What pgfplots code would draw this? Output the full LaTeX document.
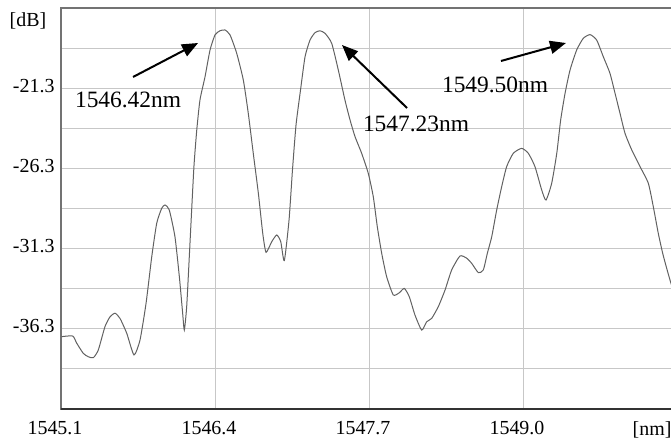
\documentclass[border=0pt]{standalone}
\usepackage{pgfplots}
\pgfplotsset{compat=1.18}
\usepackage{fontspec}
\setmainfont{Liberation Serif}
\usetikzlibrary{arrows.meta}

\begin{document}
\begin{tikzpicture}
\begin{axis}[
  name=ax,
  scale only axis, width=616bp, height=401bp,
  xmin=1545.1, xmax=1550.3, ymin=-41.3, ymax=-16.3,
  xtick={1545.1,1546.4,1547.7,1549.0},
  xticklabels={1545.1,1546.4,1547.7,1549.0},
  extra x ticks={1550.14}, extra x tick labels={[nm]},
  extra x tick style={grid=none},
  ytick={-41.3,-38.8,-36.3,-33.8,-31.3,-28.8,-26.3,-23.8,-21.3,-18.8,-16.3},
  yticklabels={,,-36.3,,-31.3,,-26.3,,-21.3,,},
  grid=major,
  major grid style={draw=black!22, line width=1bp},
  major tick length=0pt,
  axis line style={draw=black!55, line width=1.2bp},
  tick label style={font=\fontsize{20}{24}\selectfont},
  xticklabel style={xshift=-6bp, yshift=-9bp},
  yticklabel style={xshift=-3bp, yshift=2.5bp},
  clip=false,
]
\addplot[color=black!62, line width=1bp, smooth, tension=0.35] coordinates {
(1545.106,-36.79) (1545.199,-36.75) (1545.233,-37.20) (1545.288,-37.83)
(1545.330,-38.04) (1545.373,-38.10) (1545.415,-37.62) (1545.471,-36.17)
(1545.514,-35.55) (1545.556,-35.33) (1545.598,-35.65) (1545.655,-36.58)
(1545.716,-37.93) (1545.767,-37.00) (1545.818,-34.71) (1545.866,-31.81)
(1545.908,-29.72) (1545.950,-28.79) (1545.978,-28.58) (1546.014,-28.89)
(1546.062,-30.56) (1546.099,-33.05) (1546.127,-35.33) (1546.141,-36.38)
(1546.161,-34.92) (1546.183,-31.81) (1546.203,-28.89) (1546.223,-26.09)
(1546.246,-23.91) (1546.273,-22.04) (1546.316,-20.58) (1546.358,-18.92)
(1546.400,-17.98) (1546.442,-17.72) (1546.484,-17.67) (1546.527,-17.98)
(1546.583,-19.12) (1546.639,-20.79) (1546.681,-22.87) (1546.723,-25.36)
(1546.766,-27.85) (1546.803,-30.35) (1546.831,-31.53) (1546.879,-30.87)
(1546.921,-30.45) (1546.955,-30.87) (1546.985,-32.05) (1547.025,-29.52)
(1547.054,-26.40) (1547.084,-23.59) (1547.122,-21.41) (1547.160,-19.34)
(1547.202,-18.30) (1547.244,-17.84) (1547.286,-17.72) (1547.329,-17.88)
(1547.385,-18.50) (1547.441,-20.17) (1547.497,-22.04) (1547.540,-23.28)
(1547.582,-24.32) (1547.638,-25.36) (1547.694,-26.61) (1547.736,-28.06)
(1547.770,-29.93) (1547.807,-31.59) (1547.849,-33.05) (1547.905,-34.19)
(1547.956,-34.05) (1547.998,-33.78) (1548.040,-34.30) (1548.088,-35.44)
(1548.145,-36.38) (1548.187,-35.86) (1548.229,-35.65) (1548.285,-34.92)
(1548.342,-33.88) (1548.398,-32.63) (1548.468,-31.76) (1548.525,-31.90)
(1548.567,-32.22) (1548.623,-32.80) (1548.665,-32.63) (1548.699,-31.59)
(1548.736,-30.56) (1548.778,-28.89) (1548.820,-27.44) (1548.862,-26.19)
(1548.918,-25.36) (1548.989,-25.05) (1549.045,-25.36) (1549.101,-26.19)
(1549.158,-27.65) (1549.194,-28.27) (1549.242,-27.23) (1549.285,-25.36)
(1549.318,-23.28) (1549.355,-21.62) (1549.397,-20.17) (1549.453,-18.92)
(1549.509,-18.19) (1549.566,-17.96) (1549.622,-18.30) (1549.678,-19.34)
(1549.734,-20.37) (1549.777,-21.62) (1549.819,-22.87) (1549.861,-24.11)
(1549.918,-25.15) (1549.988,-26.19) (1550.058,-27.23) (1550.100,-28.69)
(1550.142,-30.35) (1550.179,-31.59) (1550.213,-32.53) (1550.249,-33.46)
(1550.285,-34.19)
};
\draw[black!80, line width=1.3bp] (rel axis cs:0,0) -- (rel axis cs:1,0);
\node[font=\fontsize{20}{24}\selectfont] at (axis cs:1544.821,-17.10) {[dB]};
\begin{scope}[font=\fontsize{23.5}{28}\selectfont]
\node at (axis cs:1545.666,-22.035) {1546.42nm};
\node at (axis cs:1548.097,-23.531) {1547.23nm};
\node at (axis cs:1548.764,-21.100) {1549.50nm};
\end{scope}
\draw[-{Triangle[length=16bp,width=13bp]}, line width=2bp]
  (axis cs:1545.708,-20.601) -- (axis cs:1546.257,-18.482);
\draw[-{Triangle[length=16bp,width=13bp]}, line width=2bp]
  (axis cs:1548.021,-22.534) -- (axis cs:1547.472,-18.607);
\draw[-{Triangle[length=16bp,width=13bp]}, line width=2bp]
  (axis cs:1548.814,-19.604) -- (axis cs:1549.363,-18.482);
\end{axis}
\pgfresetboundingbox
\useasboundingbox ([xshift=-61bp,yshift=-35bp]ax.south west) rectangle ([xshift=610bp,yshift=409bp]ax.south west);
\end{tikzpicture}
\end{document}
